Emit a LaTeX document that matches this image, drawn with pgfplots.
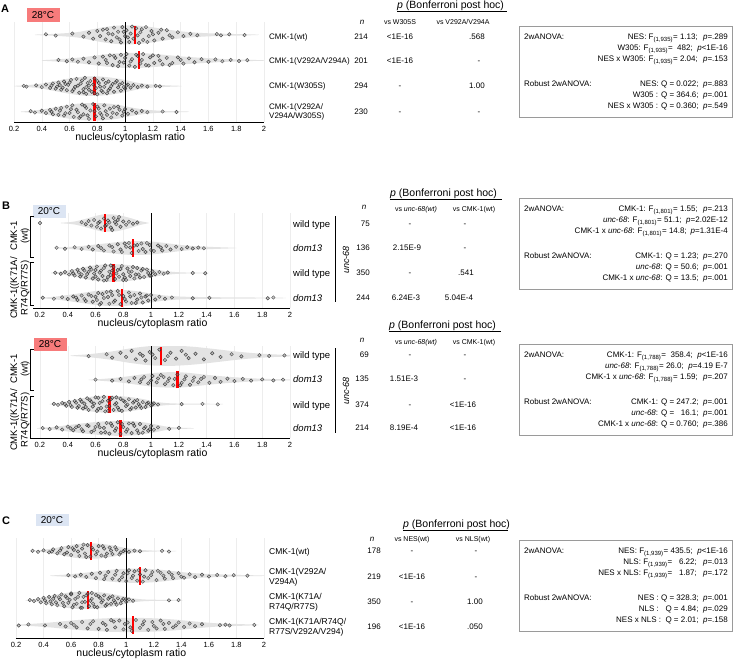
\documentclass[border=0pt]{standalone}
\usepackage{fontspec}
\setmainfont{Liberation Sans}
\usepackage{pgfplots}
\pgfplotsset{compat=1.18}
\definecolor{vio}{HTML}{E3E3E3}
\definecolor{hot}{HTML}{F77B7B}
\definecolor{cold}{HTML}{DCE5F3}
\definecolor{boxc}{HTML}{9A9A9A}
\newcommand{\fs}[1]{\fontsize{#1}{#1}\selectfont}

\pgfplotsset{
 vplot/.style={scale only axis, axis x line*=bottom, hide y axis, xmax=2,
  xtick={0.2,0.4,0.6,0.8,1,1.2,1.4,1.6,1.8,2},
  xticklabels={0.2,0.4,0.6,0.8,1,1.2,1.4,1.6,1.8,2},
  major tick length=0pt, xmajorgrids, major grid style={draw=gray!14, line width=0.4pt},
  x axis line style={line width=0.8pt, -},
  xticklabel style={font=\fs{7.5}, yshift=-0.5pt},
  xlabel={nucleus/cytoplasm ratio},
  xlabel style={font=\fs{10.5}, at={(axis description cs:0.465,0)}, anchor=center, yshift=-16pt}},
 vio/.style={fill=vio, draw=none, smooth},
 pts/.style={only marks, mark=*, mark size=1.75pt, mark options={draw=black!85, fill=black!45, fill opacity=0.4, draw opacity=0.8, line width=0.45pt}},
 med/.style={red, line width=2.2pt},
 vline/.style={black, line width=0.9pt},
}
\tikzset{
 f7/.style={font=\fs{7}, inner sep=0pt, text height=5.0pt, text depth=0pt},
 f8/.style={font=\fs{8}, inner sep=0pt, text height=5.8pt, text depth=0pt},
 f85/.style={font=\fs{8.5}, inner sep=0pt, text height=6.1pt, text depth=0pt},
 f95/.style={font=\fs{9.5}, inner sep=0pt, text height=6.8pt, text depth=0pt},
 f105/.style={font=\fs{10.5}, inner sep=0pt, text height=7.6pt, text depth=0pt},
 ml/.style={font=\fontsize{8.5}{10}\selectfont, inner sep=0pt, align=left},
 mla/.style={font=\fontsize{8}{9.5}\selectfont, inner sep=0pt, align=left},
 letter/.style={font=\bfseries\fs{11}, inner sep=0pt},
 temp/.style={inner sep=0pt, minimum width=33pt, minimum height=14pt, font=\fs{10}},
}

\begin{document}
\begin{tikzpicture}
\path[use as bounding box] (0,0) rectangle (735pt,-661pt);

% ---------------- Panel A ----------------
\begin{axis}[vplot, at={(14pt,-122pt)}, anchor=south west, width=250pt, height=100pt, xmin=0.2, ymin=0.6, ymax=4.5]
\addplot[vio] coordinates {(0.35,4.01)(0.5,4.04)(0.65,4.1)(0.75,4.2)(0.85,4.3)(0.95,4.36)(1.05,4.37)(1.15,4.33)(1.25,4.25)(1.35,4.17)(1.45,4.11)(1.6,4.06)(1.8,4.03)(1.95,4.01)(1.95,3.99)(1.8,3.97)(1.6,3.94)(1.45,3.89)(1.35,3.83)(1.25,3.75)(1.15,3.67)(1.05,3.63)(0.95,3.64)(0.85,3.7)(0.75,3.8)(0.65,3.9)(0.5,3.96)(0.35,3.99)};
\addplot[vio] coordinates {(0.4,3.01)(0.5,3.04)(0.6,3.08)(0.7,3.13)(0.8,3.2)(0.9,3.26)(1.0,3.29)(1.1,3.29)(1.2,3.26)(1.3,3.21)(1.4,3.16)(1.5,3.12)(1.6,3.09)(1.7,3.06)(1.85,3.03)(2.0,3.01)(2.0,2.99)(1.85,2.97)(1.7,2.94)(1.6,2.91)(1.5,2.88)(1.4,2.84)(1.3,2.79)(1.2,2.74)(1.1,2.71)(1.0,2.71)(0.9,2.74)(0.8,2.8)(0.7,2.87)(0.6,2.92)(0.5,2.96)(0.4,2.99)};
\addplot[vio] coordinates {(0.2,2.01)(0.3,2.04)(0.4,2.1)(0.5,2.2)(0.6,2.3)(0.7,2.37)(0.8,2.38)(0.9,2.33)(1.0,2.24)(1.1,2.12)(1.2,2.06)(1.3,2.03)(1.4,2.01)(1.4,1.99)(1.3,1.97)(1.2,1.94)(1.1,1.88)(1.0,1.76)(0.9,1.67)(0.8,1.62)(0.7,1.63)(0.6,1.7)(0.5,1.8)(0.4,1.9)(0.3,1.96)(0.2,1.99)};
\addplot[vio] coordinates {(0.25,1.01)(0.35,1.05)(0.45,1.13)(0.55,1.23)(0.65,1.31)(0.75,1.34)(0.85,1.33)(0.95,1.27)(1.05,1.16)(1.15,1.08)(1.25,1.04)(1.35,1.02)(1.45,1.01)(1.45,0.99)(1.35,0.98)(1.25,0.96)(1.15,0.92)(1.05,0.84)(0.95,0.73)(0.85,0.67)(0.75,0.66)(0.65,0.69)(0.55,0.77)(0.45,0.87)(0.35,0.95)(0.25,0.99)};
\addplot[pts] coordinates {(0.43,4.02) (0.50,3.97) (0.62,4.05) (0.70,3.93) (0.74,4.08) (0.77,3.85) (0.80,4.15) (0.82,3.95) (0.84,4.2) (0.86,3.82) (0.88,4.05) (0.90,3.75) (0.92,4.28) (0.94,3.9) (0.95,4.12) (0.97,3.7) (0.98,4.3) (1.00,3.95) (1.01,4.18) (1.03,3.72) (1.04,4.05) (1.06,3.85) (1.08,4.25) (1.10,3.68) (1.11,4.1) (1.13,3.8) (1.15,4.3) (1.17,3.95) (1.19,4.15) (1.21,3.78) (1.24,4.08) (1.27,3.85) (1.30,4.18) (1.34,3.9) (1.38,4.1) (1.42,3.95) (1.47,4.04) (1.52,3.98) (1.66,4.03) (1.69,3.98) (1.75,4.02) (1.86,3.99)
 (0.87,4.22) (0.91,4.02) (0.96,3.82) (0.99,4.12) (1.02,3.9) (1.05,4.32) (1.09,3.98) (1.12,4.22) (1.16,3.72) (1.20,4.02) (1.26,4.2) (1.32,3.98)};
\addplot[pts] coordinates {(0.52,3.02) (0.58,2.97) (0.62,3.04) (0.66,2.95) (0.70,3.07) (0.74,2.93) (0.78,3.12) (0.81,2.88) (0.84,3.15) (0.87,2.9) (0.89,3.2) (0.91,2.82) (0.93,3.1) (0.95,2.78) (0.97,3.22) (0.99,2.92) (1.01,3.25) (1.03,2.8) (1.05,3.05) (1.07,2.75) (1.09,3.18) (1.11,2.88) (1.13,3.25) (1.15,2.82) (1.18,3.12) (1.21,2.9) (1.24,3.18) (1.27,2.85) (1.30,3.1) (1.34,2.9) (1.38,3.12) (1.42,2.88) (1.46,3.08) (1.50,2.93) (1.55,3.05) (1.60,2.95) (1.65,3.04) (1.70,2.97) (1.76,3.02) (1.82,2.98) (1.88,3.01)
 (0.86,3.02) (0.92,3.18) (0.96,2.94) (1.00,3.1) (1.04,2.96) (1.08,3.22) (1.12,3.02) (1.17,2.8) (1.20,3.2) (1.25,3.0) (1.32,2.82) (1.40,3.02)};
\addplot[pts] coordinates {(0.27,2.01) (0.29,1.98) (0.36,2.03) (0.40,1.96) (0.43,2.06) (0.46,1.93) (0.48,2.1) (0.50,1.9) (0.52,2.14) (0.54,1.86) (0.56,2.18) (0.58,1.84) (0.59,2.05) (0.61,2.24) (0.62,1.8) (0.64,1.97) (0.65,2.28) (0.67,1.74) (0.68,2.1) (0.70,1.88) (0.71,2.32) (0.72,1.7) (0.74,2.02) (0.75,2.2) (0.76,1.78) (0.78,2.3) (0.79,1.92) (0.80,1.68) (0.81,2.12) (0.83,1.82) (0.84,2.26) (0.85,1.97) (0.87,1.72) (0.88,2.18) (0.89,1.9) (0.91,2.08) (0.92,1.78) (0.94,2.2) (0.95,1.95) (0.97,1.82) (0.98,2.12) (1.00,1.9) (1.02,2.06) (1.04,1.94) (1.06,2.04) (1.09,1.96) (1.12,2.02) (1.16,1.98) (1.22,2.01) (1.25,1.99)
 (0.47,2.02) (0.51,1.98) (0.53,2.04) (0.55,1.94) (0.57,2.08) (0.60,2.14) (0.63,1.88) (0.66,2.02) (0.69,2.22) (0.70,1.76) (0.73,2.12) (0.74,1.86) (0.77,2.06) (0.78,1.72) (0.80,2.2) (0.82,1.98) (0.84,1.76) (0.86,2.12) (0.88,1.84) (0.90,2.0) (0.93,2.14) (0.96,2.06) (0.99,1.96) (1.01,2.02) (0.72,1.96)};
\addplot[pts] coordinates {(0.32,1.02) (0.35,0.97) (0.40,1.04) (0.43,0.95) (0.46,1.07) (0.48,0.9) (0.50,1.12) (0.52,0.88) (0.54,1.15) (0.56,0.85) (0.58,1.2) (0.60,0.95) (0.62,1.25) (0.63,0.8) (0.65,1.08) (0.67,0.76) (0.69,1.28) (0.70,0.9) (0.72,1.15) (0.74,0.72) (0.75,1.05) (0.77,1.3) (0.79,0.82) (0.80,1.2) (0.82,0.95) (0.84,0.74) (0.85,1.25) (0.87,0.88) (0.89,1.12) (0.90,0.78) (0.92,1.18) (0.94,0.92) (0.96,1.08) (0.98,0.85) (1.00,1.1) (1.02,0.92) (1.05,1.05) (1.08,0.96) (1.12,1.03) (1.16,0.98) (1.27,1.01) (1.37,0.99)
 (0.47,1.0) (0.53,1.04) (0.57,0.94) (0.61,1.1) (0.66,0.98) (0.71,1.22) (0.73,0.86) (0.78,1.02) (0.81,1.12) (0.83,0.88) (0.86,1.02) (0.91,0.96) (0.95,1.2) (0.99,1.0) (0.68,0.82)};
\addplot[vline] coordinates {(1,0.6) (1,4.5)};
\addplot[med] coordinates {(1.07,3.65) (1.07,4.35)};
\addplot[med] coordinates {(1.10,2.65) (1.10,3.35)};
\addplot[med] coordinates {(0.78,1.65) (0.78,2.35)};
\addplot[med] coordinates {(0.78,0.65) (0.78,1.35)};
\end{axis}

% ---------------- Panel B, 20C ----------------
\begin{axis}[vplot, at={(33pt,-308pt)}, anchor=south west, width=257pt, height=95pt, xmin=0.15, ymin=0.6, ymax=4.4]
\addplot[vio] coordinates {(0.35,4.01)(0.45,4.06)(0.55,4.2)(0.65,4.34)(0.75,4.33)(0.85,4.2)(0.92,4.08)(0.98,4.01)(0.98,3.99)(0.92,3.92)(0.85,3.8)(0.75,3.67)(0.65,3.66)(0.55,3.8)(0.45,3.94)(0.35,3.99)};
\addplot[vio] coordinates {(0.3,3.01)(0.4,3.04)(0.5,3.08)(0.6,3.14)(0.7,3.2)(0.8,3.26)(0.9,3.28)(1.0,3.26)(1.1,3.2)(1.2,3.13)(1.3,3.08)(1.45,3.04)(1.6,3.01)(1.6,2.99)(1.45,2.96)(1.3,2.92)(1.2,2.87)(1.1,2.8)(1.0,2.74)(0.9,2.72)(0.8,2.74)(0.7,2.8)(0.6,2.86)(0.5,2.92)(0.4,2.96)(0.3,2.99)};
\addplot[vio] coordinates {(0.28,2.01)(0.35,2.05)(0.45,2.15)(0.55,2.27)(0.65,2.34)(0.75,2.35)(0.85,2.31)(0.95,2.22)(1.05,2.12)(1.15,2.05)(1.25,2.02)(1.4,2.01)(1.4,1.99)(1.25,1.98)(1.15,1.95)(1.05,1.88)(0.95,1.78)(0.85,1.69)(0.75,1.65)(0.65,1.66)(0.55,1.73)(0.45,1.85)(0.35,1.95)(0.28,1.99)};
\addplot[vio] coordinates {(0.2,1.01)(0.3,1.05)(0.4,1.12)(0.5,1.2)(0.6,1.28)(0.7,1.32)(0.8,1.32)(0.9,1.27)(1.0,1.18)(1.1,1.1)(1.25,1.05)(1.5,1.03)(1.75,1.02)(1.95,1.01)(1.95,0.99)(1.75,0.98)(1.5,0.97)(1.25,0.95)(1.1,0.9)(1.0,0.82)(0.9,0.73)(0.8,0.68)(0.7,0.68)(0.6,0.72)(0.5,0.8)(0.4,0.88)(0.3,0.95)(0.2,0.99)};
\addplot[pts] coordinates {(0.20,4.0) (0.50,4.03) (0.53,3.95) (0.55,4.08) (0.57,3.9) (0.59,4.12) (0.61,3.85) (0.63,4.05) (0.64,3.78) (0.66,4.18) (0.68,3.92) (0.69,4.1) (0.71,3.82) (0.73,4.2) (0.75,3.95) (0.76,4.12) (0.78,3.85) (0.80,4.06) (0.82,3.93) (0.84,4.05) (0.87,3.97) (0.90,4.02)
 (0.62,4.0) (0.67,3.88) (0.70,4.02) (0.72,3.72) (0.77,4.24) (0.74,4.04)};
\addplot[pts] coordinates {(0.32,3.01) (0.38,2.97) (0.45,3.03) (0.50,2.96) (0.55,3.05) (0.58,2.94) (0.62,3.08) (0.66,2.9) (0.70,3.1) (0.73,2.86) (0.76,3.15) (0.79,2.84) (0.82,3.05) (0.84,3.2) (0.86,2.8) (0.88,3.1) (0.91,2.88) (0.93,3.18) (0.96,2.84) (0.99,3.12) (1.02,2.88) (1.05,3.1) (1.08,2.9) (1.11,3.08) (1.14,2.94) (1.18,3.05) (1.22,2.96) (1.26,3.03) (1.30,2.98) (1.34,3.02) (1.38,2.99)
 (0.64,3.0) (0.72,3.04) (0.78,2.94) (0.81,3.18) (0.85,3.02) (0.90,3.12) (0.94,2.96) (0.97,3.2) (1.00,2.92) (1.07,3.02)};
\addplot[pts] coordinates {(0.31,2.01) (0.35,1.97) (0.38,2.04) (0.41,1.94) (0.43,2.08) (0.45,1.9) (0.47,2.13) (0.49,1.86) (0.51,2.17) (0.53,1.82) (0.55,2.05) (0.56,2.22) (0.58,1.78) (0.59,1.98) (0.61,2.26) (0.62,1.74) (0.64,2.1) (0.65,1.88) (0.67,2.3) (0.68,1.72) (0.70,2.05) (0.71,1.92) (0.73,2.24) (0.74,1.76) (0.76,2.12) (0.77,1.85) (0.79,2.28) (0.80,1.95) (0.82,1.72) (0.83,2.18) (0.85,1.88) (0.86,2.06) (0.88,1.78) (0.90,2.2) (0.91,1.94) (0.93,2.1) (0.95,1.84) (0.97,2.14) (0.99,1.9) (1.01,2.06) (1.03,1.95) (1.06,2.04) (1.09,1.97) (1.12,2.02) (1.30,2.0) (1.39,1.99)
 (0.44,1.98) (0.48,2.02) (0.50,1.94) (0.52,2.1) (0.54,1.96) (0.57,2.14) (0.60,1.86) (0.63,2.02) (0.66,2.2) (0.69,1.84) (0.72,2.1) (0.75,1.98) (0.78,2.16) (0.81,1.82) (0.84,2.04) (0.87,2.24) (0.89,1.94) (0.92,1.82) (0.94,2.16) (0.98,2.0) (1.00,1.88) (0.71,2.3) (0.60,2.12) (0.66,1.7) (0.80,1.72)};
\addplot[pts] coordinates {(0.22,1.01) (0.30,0.97) (0.36,1.03) (0.40,0.96) (0.44,1.06) (0.47,0.92) (0.50,1.1) (0.53,0.88) (0.55,1.14) (0.58,0.85) (0.60,1.05) (0.62,1.2) (0.64,0.8) (0.66,1.0) (0.68,1.24) (0.70,0.77) (0.72,1.12) (0.74,0.9) (0.76,1.28) (0.78,0.75) (0.80,1.08) (0.82,0.86) (0.84,1.22) (0.86,0.8) (0.88,1.12) (0.90,0.94) (0.92,1.18) (0.94,0.82) (0.96,1.06) (0.98,0.9) (1.00,1.12) (1.03,0.94) (1.06,1.05) (1.10,0.97) (1.15,1.02) (1.30,0.99) (1.42,1.01) (1.84,0.99) (1.88,1.02)
 (0.46,1.02) (0.52,0.96) (0.57,1.08) (0.61,0.92) (0.65,1.16) (0.69,1.04) (0.73,0.84) (0.77,1.12) (0.81,0.96) (0.85,1.06) (0.89,0.8) (0.93,1.02) (0.97,1.1) (0.71,1.26) (0.63,0.74)};
\addplot[vline] coordinates {(1,0.6) (1,4.4)};
\addplot[med] coordinates {(0.67,3.65) (0.67,4.35)};
\addplot[med] coordinates {(0.87,2.65) (0.87,3.35)};
\addplot[med] coordinates {(0.73,1.65) (0.73,2.35)};
\addplot[med] coordinates {(0.79,0.65) (0.79,1.35)};
\end{axis}

% ---------------- Panel B, 28C ----------------
\begin{axis}[vplot, at={(33pt,-438pt)}, anchor=south west, width=257pt, height=92pt, xmin=0.15, ymin=0.6, ymax=4.4]
\addplot[vio] coordinates {(0.42,4.01)(0.55,4.06)(0.7,4.16)(0.85,4.3)(1.0,4.4)(1.15,4.42)(1.3,4.37)(1.45,4.28)(1.6,4.18)(1.75,4.1)(1.9,4.05)(2.0,4.03)(2.0,3.97)(1.9,3.95)(1.75,3.9)(1.6,3.82)(1.45,3.72)(1.3,3.63)(1.15,3.58)(1.0,3.6)(0.85,3.7)(0.7,3.84)(0.55,3.94)(0.42,3.99)};
\addplot[vio] coordinates {(0.55,3.01)(0.65,3.04)(0.75,3.09)(0.85,3.16)(0.95,3.24)(1.05,3.3)(1.15,3.32)(1.25,3.3)(1.35,3.24)(1.45,3.18)(1.6,3.11)(1.75,3.06)(1.9,3.03)(2.0,3.02)(2.0,2.98)(1.9,2.97)(1.75,2.94)(1.6,2.89)(1.45,2.82)(1.35,2.76)(1.25,2.7)(1.15,2.68)(1.05,2.7)(0.95,2.76)(0.85,2.84)(0.75,2.91)(0.65,2.96)(0.55,2.99)};
\addplot[vio] coordinates {(0.27,2.01)(0.35,2.07)(0.45,2.18)(0.55,2.29)(0.65,2.35)(0.75,2.34)(0.85,2.29)(0.95,2.2)(1.05,2.08)(1.15,2.03)(1.3,2.02)(1.5,2.01)(1.5,1.99)(1.3,1.98)(1.15,1.97)(1.05,1.92)(0.95,1.8)(0.85,1.71)(0.75,1.66)(0.65,1.65)(0.55,1.71)(0.45,1.82)(0.35,1.93)(0.27,1.99)};
\addplot[vio] coordinates {(0.18,1.01)(0.3,1.06)(0.4,1.13)(0.5,1.2)(0.6,1.26)(0.7,1.3)(0.8,1.31)(0.9,1.28)(1.0,1.2)(1.1,1.08)(1.2,1.03)(1.3,1.01)(1.3,0.99)(1.2,0.97)(1.1,0.92)(1.0,0.8)(0.9,0.72)(0.8,0.69)(0.7,0.7)(0.6,0.74)(0.5,0.8)(0.4,0.87)(0.3,0.94)(0.18,0.99)};
\addplot[pts] coordinates {(0.55,3.98) (0.68,4.06) (0.72,3.92) (0.78,4.12) (0.82,3.95) (0.86,4.2) (0.89,3.85) (0.92,4.08) (0.96,3.8) (0.99,4.15) (1.03,3.9) (1.06,4.25) (1.10,3.82) (1.14,4.12) (1.18,3.88) (1.22,4.2) (1.27,3.9) (1.32,4.08) (1.38,3.85) (1.44,4.1) (1.50,3.95) (1.58,4.06) (1.65,3.97) (1.78,4.02) (1.85,3.99) (1.96,4.01)
 (0.94,4.0) (1.01,4.05) (1.12,3.98) (1.25,4.04)};
\addplot[pts] coordinates {(0.60,3.01) (0.72,2.97) (0.78,3.04) (0.84,2.94) (0.88,3.08) (0.92,2.9) (0.95,3.12) (0.98,2.86) (1.01,3.16) (1.04,2.9) (1.07,3.2) (1.10,2.82) (1.13,3.06) (1.16,2.78) (1.19,3.22) (1.22,2.88) (1.25,3.15) (1.28,2.8) (1.31,3.1) (1.34,2.9) (1.38,3.12) (1.42,2.88) (1.46,3.08) (1.50,2.92) (1.55,3.05) (1.60,2.95) (1.66,3.04) (1.72,2.97) (1.80,3.02) (1.88,2.98) (1.95,3.01)
 (0.93,3.02) (1.00,2.98) (1.05,3.06) (1.09,3.12) (1.12,2.94) (1.17,3.04) (1.21,2.78) (1.24,3.02) (1.30,2.96) (1.36,3.04)};
\addplot[pts] coordinates {(0.30,2.01) (0.33,1.97) (0.36,2.05) (0.39,1.93) (0.41,2.09) (0.43,1.88) (0.45,2.13) (0.47,1.85) (0.49,2.18) (0.51,1.82) (0.52,2.02) (0.54,2.24) (0.55,1.76) (0.57,2.1) (0.58,1.9) (0.60,2.28) (0.61,1.72) (0.63,2.05) (0.64,1.84) (0.66,2.3) (0.67,1.7) (0.69,2.14) (0.70,1.92) (0.72,2.26) (0.73,1.76) (0.75,2.04) (0.76,1.86) (0.78,2.22) (0.79,1.72) (0.81,2.1) (0.82,1.92) (0.84,2.2) (0.85,1.78) (0.87,2.06) (0.89,1.86) (0.90,2.16) (0.92,1.92) (0.94,2.08) (0.96,1.88) (0.98,2.06) (1.00,1.95) (1.02,2.03) (1.05,1.98) (1.22,2.0) (1.37,2.01) (1.48,1.99)
 (0.38,2.0) (0.42,1.96) (0.46,2.06) (0.48,1.92) (0.50,2.1) (0.53,1.88) (0.56,2.16) (0.59,2.02) (0.62,1.8) (0.65,2.12) (0.68,1.9) (0.71,2.2) (0.74,1.98) (0.77,1.76) (0.80,2.14) (0.83,1.98) (0.86,1.84) (0.88,2.12) (0.91,2.0) (0.93,1.84) (0.97,2.02) (1.01,1.98) (0.62,2.26) (0.69,1.72) (0.75,2.28)};
\addplot[pts] coordinates {(0.22,1.01) (0.27,0.97) (0.32,1.04) (0.36,0.95) (0.40,1.07) (0.44,0.92) (0.48,1.1) (0.51,0.88) (0.54,1.13) (0.57,0.85) (0.60,1.06) (0.62,1.18) (0.64,0.82) (0.66,1.02) (0.68,1.22) (0.70,0.78) (0.72,1.1) (0.74,0.9) (0.76,1.25) (0.78,0.77) (0.80,1.05) (0.82,0.86) (0.84,1.2) (0.86,0.8) (0.88,1.1) (0.90,0.92) (0.92,1.18) (0.94,0.82) (0.96,1.06) (0.98,0.9) (1.00,1.1) (1.02,0.94) (1.05,1.04) (1.13,0.98) (1.20,1.02)
 (0.42,1.0) (0.46,1.04) (0.50,0.96) (0.55,1.1) (0.59,0.92) (0.63,1.04) (0.67,0.84) (0.71,1.2) (0.75,1.0) (0.79,1.18) (0.83,0.96) (0.87,1.2) (0.91,0.8) (0.95,1.0) (0.99,0.96)};
\addplot[vline] coordinates {(1,0.6) (1,4.4)};
\addplot[med] coordinates {(1.07,3.63) (1.07,4.37)};
\addplot[med] coordinates {(1.19,2.65) (1.19,3.35)};
\addplot[med] coordinates {(0.70,1.65) (0.70,2.35)};
\addplot[med] coordinates {(0.78,0.65) (0.78,1.35)};
\end{axis}

% ---------------- Panel C ----------------
\begin{axis}[vplot, at={(16pt,-638pt)}, anchor=south west, width=248pt, height=100pt, xmin=0.2, ymin=0.47, ymax=4.53]
\addplot[vio] coordinates {(0.3,4.01)(0.4,4.05)(0.5,4.14)(0.6,4.25)(0.7,4.31)(0.8,4.3)(0.9,4.23)(1.0,4.12)(1.1,4.05)(1.2,4.02)(1.35,4.01)(1.35,3.99)(1.2,3.98)(1.1,3.95)(1.0,3.88)(0.9,3.77)(0.8,3.7)(0.7,3.69)(0.6,3.75)(0.5,3.86)(0.4,3.95)(0.3,3.99)};
\addplot[vio] coordinates {(0.45,3.01)(0.55,3.04)(0.65,3.09)(0.75,3.15)(0.85,3.22)(0.95,3.27)(1.05,3.29)(1.15,3.28)(1.25,3.24)(1.35,3.18)(1.45,3.12)(1.6,3.07)(1.75,3.04)(1.9,3.02)(2.0,3.01)(2.0,2.99)(1.9,2.98)(1.75,2.96)(1.6,2.93)(1.45,2.88)(1.35,2.82)(1.25,2.76)(1.15,2.72)(1.05,2.71)(0.95,2.73)(0.85,2.78)(0.75,2.85)(0.65,2.91)(0.55,2.96)(0.45,2.99)};
\addplot[vio] coordinates {(0.27,2.01)(0.35,2.06)(0.45,2.18)(0.55,2.29)(0.65,2.35)(0.75,2.35)(0.85,2.3)(0.95,2.2)(1.05,2.08)(1.15,2.03)(1.3,2.02)(1.4,2.01)(1.4,1.99)(1.3,1.98)(1.15,1.97)(1.05,1.92)(0.95,1.8)(0.85,1.7)(0.75,1.65)(0.65,1.65)(0.55,1.71)(0.45,1.82)(0.35,1.94)(0.27,1.99)};
\addplot[vio] coordinates {(0.17,1.01)(0.3,1.04)(0.45,1.1)(0.6,1.18)(0.75,1.24)(0.9,1.28)(1.05,1.29)(1.2,1.27)(1.35,1.22)(1.5,1.14)(1.65,1.07)(1.8,1.04)(1.95,1.01)(1.95,0.99)(1.8,0.96)(1.65,0.93)(1.5,0.86)(1.35,0.78)(1.2,0.73)(1.05,0.71)(0.9,0.72)(0.75,0.76)(0.6,0.82)(0.45,0.9)(0.3,0.96)(0.17,0.99)};
\addplot[pts] coordinates {(0.32,4.01) (0.36,3.97) (0.40,4.03) (0.44,3.95) (0.47,4.07) (0.50,3.91) (0.53,4.12) (0.55,3.87) (0.58,4.16) (0.60,3.84) (0.62,4.05) (0.64,4.2) (0.66,3.8) (0.68,4.1) (0.70,3.9) (0.72,4.24) (0.74,3.78) (0.76,4.06) (0.78,3.86) (0.80,4.2) (0.82,3.82) (0.84,4.1) (0.86,3.9) (0.88,4.14) (0.90,3.88) (0.93,4.06) (0.96,3.94) (0.99,4.04) (1.02,3.97) (1.06,4.02) (1.10,3.99) (1.26,4.01) (1.31,3.98)
 (0.46,3.98) (0.52,4.02) (0.57,3.94) (0.61,4.12) (0.65,3.98) (0.69,4.26) (0.71,3.76) (0.75,4.14) (0.79,3.98) (0.83,4.2) (0.85,3.78) (0.89,4.02) (0.92,4.16) (0.95,3.86) (0.98,4.0)};
\addplot[pts] coordinates {(0.58,3.02) (0.63,2.97) (0.67,3.04) (0.71,2.95) (0.75,3.08) (0.78,2.9) (0.81,3.12) (0.84,2.86) (0.87,3.15) (0.90,2.88) (0.93,3.2) (0.95,2.82) (0.98,3.1) (1.00,2.78) (1.02,3.22) (1.04,2.9) (1.06,3.18) (1.08,2.8) (1.10,3.05) (1.12,2.76) (1.14,3.22) (1.16,2.9) (1.19,3.15) (1.22,2.82) (1.25,3.12) (1.28,2.88) (1.31,3.14) (1.34,2.9) (1.38,3.1) (1.42,2.92) (1.46,3.06) (1.50,2.94) (1.55,3.04) (1.60,2.97) (1.66,3.03) (1.72,2.98) (1.78,3.02) (1.88,3.0)
 (0.85,3.0) (0.92,3.04) (0.97,2.94) (1.01,3.1) (1.05,3.0) (1.09,3.22) (1.13,2.96) (1.18,3.02) (1.23,3.2) (1.27,3.0) (1.33,3.04) (1.40,2.96)};
\addplot[pts] coordinates {(0.30,2.01) (0.33,1.97) (0.36,2.05) (0.38,1.92) (0.40,2.1) (0.42,1.88) (0.44,2.14) (0.46,1.84) (0.48,2.18) (0.50,1.8) (0.52,2.04) (0.53,2.24) (0.55,1.76) (0.57,2.1) (0.58,1.9) (0.60,2.28) (0.61,1.72) (0.63,2.06) (0.64,1.86) (0.66,2.3) (0.67,1.7) (0.69,2.14) (0.70,1.94) (0.72,2.26) (0.73,1.76) (0.75,2.06) (0.76,1.86) (0.78,2.22) (0.79,1.72) (0.81,2.1) (0.82,1.92) (0.84,2.2) (0.85,1.78) (0.87,2.06) (0.89,1.86) (0.90,2.16) (0.92,1.92) (0.94,2.08) (0.96,1.88) (0.98,2.06) (1.00,1.94) (1.02,2.04) (1.05,1.98) (1.31,2.0) (1.38,2.01)
 (0.41,2.0) (0.45,1.96) (0.47,2.06) (0.49,1.92) (0.51,2.12) (0.54,1.9) (0.56,2.16) (0.59,2.02) (0.62,1.82) (0.65,2.14) (0.68,1.92) (0.71,2.2) (0.74,1.98) (0.77,1.74) (0.80,2.16) (0.83,2.0) (0.86,1.84) (0.88,2.12) (0.91,2.0) (0.93,1.82) (0.97,2.0) (1.00,2.06) (0.60,2.24) (0.68,1.7) (0.75,2.3)};
\addplot[pts] coordinates {(0.19,1.01) (0.22,0.98) (0.29,1.02) (0.41,0.98) (0.52,1.04) (0.56,0.94) (0.60,1.08) (0.64,0.9) (0.68,1.12) (0.72,0.86) (0.76,1.15) (0.80,0.84) (0.83,1.08) (0.86,0.8) (0.89,1.2) (0.92,0.9) (0.95,1.18) (0.98,0.82) (1.01,1.1) (1.04,0.76) (1.07,1.2) (1.10,0.88) (1.13,1.15) (1.16,0.8) (1.19,1.12) (1.22,0.86) (1.25,1.18) (1.28,0.84) (1.31,1.08) (1.34,0.9) (1.38,1.1) (1.42,0.92) (1.46,1.06) (1.50,0.95) (1.55,1.03) (1.68,0.99) (1.72,1.01) (1.75,0.98) (1.93,1.0)
 (0.62,1.0) (0.74,1.04) (0.85,1.0) (0.91,1.14) (0.99,1.04) (1.03,0.9) (1.12,1.02) (1.20,0.96) (1.27,1.04) (1.36,0.98)};
\addplot[vline] coordinates {(1,0.47) (1,4.53)};
\addplot[med] coordinates {(0.745,3.63) (0.745,4.37)};
\addplot[med] coordinates {(1.10,2.63) (1.10,3.37)};
\addplot[med] coordinates {(0.72,1.63) (0.72,2.37)};
\addplot[med] coordinates {(1.05,0.63) (1.05,1.37)};
\end{axis}

% ---------------- Text ----------------
\begin{scope}[x=1pt,y=-1pt]
% ===== A =====
\node[letter] at (5,9) {A};
\node[temp, fill=hot] at (43,15) {28°C};
\node[f105, anchor=west] at (397,5) {\textit{p} (Bonferroni post hoc)};
\draw[line width=0.5pt] (397,11) -- (507,11);
\node[f8] at (362,22) {\textit{n}};
\node[f7] at (400,22) {vs W305S};
\node[f7] at (463,22) {vs V292A/V294A};
\node[f8, anchor=west] at (269,37) {CMK-1(wt)};
\node[f8, anchor=west] at (269,61) {CMK-1(V292A/V294A)};
\node[f8, anchor=west] at (269,86) {CMK-1(W305S)};
\node[mla, anchor=west] at (269,112) {CMK-1(V292A/\\V294A/W305S)};
\node[f8, anchor=east] at (368,37) {214};
\node[f8, anchor=east] at (368,61) {201};
\node[f8, anchor=east] at (368,86) {294};
\node[f8, anchor=east] at (368,112) {230};
\node[f8] at (400,37) {<1E-16};
\node[f8] at (400,61) {<1E-16};
\node[f8] at (400,86) {-};
\node[f8] at (400,112) {-};
\node[f8] at (477,37) {.568};
\node[f8] at (479,61) {-};
\node[f8] at (477,86) {1.00};
\node[f8] at (479,112) {-};
\draw[boxc, line width=0.6pt] (519,26) rectangle (732,117);
\node[f8, anchor=west] at (524,37) {2wANOVA:};
\node[f8, anchor=east] at (698,37) {NES: F\textsubscript{(1,935)}= 1.13;};
\node[f8, anchor=east] at (728,37) {\textit{p}=.289};
\node[f8, anchor=east] at (693,48) {W305: F\textsubscript{(1,935)}=\ \ 482;};
\node[f8, anchor=east] at (728,48) {\textit{p}<1E-16};
\node[f8, anchor=east] at (698,59) {NES x W305: F\textsubscript{(1,935)}= 2.04;};
\node[f8, anchor=east] at (728,59) {\textit{p}=.153};
\node[f8, anchor=west] at (524,84) {Robust 2wANOVA:};
\node[f8, anchor=east] at (728,84) {NES: Q = 0.022;\ \ \textit{p}=.883};
\node[f8, anchor=east] at (728,95) {W305 : Q = 364.6;\ \ \textit{p}=.001};
\node[f8, anchor=east] at (728,106) {NES x W305 : Q = 0.360;\ \ \textit{p}=.549};

% ===== B 20C =====
\node[letter] at (6,206) {B};
\node[temp, fill=cold, minimum height=13pt] at (49,211) {20°C};
\draw[line width=0.5pt] (34,216) -- (30,216) -- (30,257) -- (34,257);
\draw[line width=0.5pt] (34,262) -- (30,262) -- (30,305) -- (34,305);
\node[rotate=90, align=center, font=\fontsize{9.5}{10.5}\selectfont, inner sep=0pt] at (20,236) {CMK-1\\(wt)};
\node[rotate=90, align=center, font=\fontsize{9.5}{10.5}\selectfont, inner sep=0pt] at (20,288) {CMK-1((K71A/\\R74Q/R77S)};
\node[f105, anchor=west] at (390,193) {\textit{p} (Bonferroni post hoc)};
\draw[line width=0.5pt] (390,199) -- (502,199);
\node[f8] at (364,207) {\textit{n}};
\node[f7] at (416,209) {vs \textit{unc-68(wt)}};
\node[f7] at (474,209) {vs CMK-1(wt)};
\node[f95, anchor=west] at (293,224) {wild type};
\node[f95, anchor=west] at (293,248) {\textit{dom13}};
\node[f95, anchor=west] at (293,273) {wild type};
\node[f95, anchor=west] at (293,298) {\textit{dom13}};
\draw[line width=0.6pt] (335,216) -- (335,302);
\node[rotate=90, font=\itshape\fs{9}, inner sep=0pt] at (346,260) {unc-68};
\node[f8, anchor=east] at (370,224) {75};
\node[f8, anchor=east] at (370,248) {136};
\node[f8, anchor=east] at (370,273) {350};
\node[f8, anchor=east] at (370,298) {244};
\node[f8] at (410,224) {-};
\node[f8] at (407,248) {2.15E-9};
\node[f8] at (410,273) {-};
\node[f8] at (406,298) {6.24E-3};
\node[f8] at (465,224) {-};
\node[f8] at (465,248) {-};
\node[f8] at (466,273) {.541};
\node[f8] at (459,298) {5.04E-4};
\draw[boxc, line width=0.6pt] (519,198) rectangle (732,289);
\node[f8, anchor=west] at (524,209) {2wANOVA:};
\node[f8, anchor=east] at (698,209) {CMK-1: F\textsubscript{(1,801)}= 1.55;};
\node[f8, anchor=east] at (728,209) {\textit{p}=.213};
\node[f8, anchor=east] at (682,220) {\textit{unc-68}: F\textsubscript{(1,801)}= 51.1;};
\node[f8, anchor=east] at (728,220) {\textit{p}=2.02E-12};
\node[f8, anchor=east] at (687,231) {CMK-1 x \textit{unc-68}: F\textsubscript{(1,801)}= 14.8;};
\node[f8, anchor=east] at (728,231) {\textit{p}=1.31E-4};
\node[f8, anchor=west] at (524,256) {Robust 2wANOVA:};
\node[f8, anchor=east] at (728,256) {CMK-1: Q = 1.23;\ \ \textit{p}=.270};
\node[f8, anchor=east] at (728,267) {\textit{unc-68}: Q = 50.6;\ \ \textit{p}=.001};
\node[f8, anchor=east] at (728,278) {CMK-1 x \textit{unc-68}: Q = 13.5;\ \ \textit{p}=.001};

% ===== B 28C =====
\node[temp, fill=hot, minimum height=13pt] at (50,344) {28°C};
\draw[line width=0.5pt] (34,349) -- (30,349) -- (30,390) -- (34,390);
\draw[line width=0.5pt] (34,396) -- (30,396) -- (30,438) -- (34,438);
\node[rotate=90, align=center, font=\fontsize{9.5}{10.5}\selectfont, inner sep=0pt] at (20,369) {CMK-1\\(wt)};
\node[rotate=90, align=center, font=\fontsize{9.5}{10.5}\selectfont, inner sep=0pt] at (20,420) {CMK-1((K71A/\\R74Q/R77S)};
\node[f105, anchor=west] at (389,325) {\textit{p} (Bonferroni post hoc)};
\draw[line width=0.5pt] (389,331) -- (501,331);
\node[f8] at (362,340) {\textit{n}};
\node[f7] at (416,342) {vs \textit{unc-68(wt)}};
\node[f7] at (474,342) {vs CMK-1(wt)};
\node[f95, anchor=west] at (293,355) {wild type};
\node[f95, anchor=west] at (293,379) {\textit{dom13}};
\node[f95, anchor=west] at (293,405) {wild type};
\node[f95, anchor=west] at (293,428) {\textit{dom13}};
\draw[line width=0.6pt] (335,348) -- (335,433);
\node[rotate=90, font=\itshape\fs{9}, inner sep=0pt] at (346,391) {unc-68};
\node[f8, anchor=east] at (369,355) {69};
\node[f8, anchor=east] at (369,379) {135};
\node[f8, anchor=east] at (369,405) {374};
\node[f8, anchor=east] at (369,428) {214};
\node[f8] at (410,355) {-};
\node[f8] at (404,379) {1.51E-3};
\node[f8] at (410,405) {-};
\node[f8] at (404,428) {8.19E-4};
\node[f8] at (465,355) {-};
\node[f8] at (465,379) {-};
\node[f8] at (463,405) {<1E-16};
\node[f8] at (463,428) {<1E-16};
\draw[boxc, line width=0.6pt] (519,344) rectangle (732,435);
\node[f8, anchor=west] at (524,355) {2wANOVA:};
\node[f8, anchor=east] at (693,355) {CMK-1: F\textsubscript{(1,788)}=\ \ 358.4;};
\node[f8, anchor=east] at (728,355) {\textit{p}<1E-16};
\node[f8, anchor=east] at (684,366) {\textit{unc-68}: F\textsubscript{(1,788)}= 26.0;};
\node[f8, anchor=east] at (728,366) {\textit{p}=4.19 E-7};
\node[f8, anchor=east] at (698,377) {CMK-1 x \textit{unc-68}: F\textsubscript{(1,788)}= 1.59;};
\node[f8, anchor=east] at (728,377) {\textit{p}=.207};
\node[f8, anchor=west] at (524,402) {Robust 2wANOVA:};
\node[f8, anchor=east] at (728,402) {CMK-1: Q = 247.2;\ \ \textit{p}=.001};
\node[f8, anchor=east] at (728,413) {\textit{unc-68}: Q =\ \ \ 16.1;\ \ \textit{p}=.001};
\node[f8, anchor=east] at (728,424) {CMK-1 x \textit{unc-68}: Q = 0.760;\ \ \textit{p}=.386};

% ===== C =====
\node[letter] at (6,521) {C};
\node[temp, fill=cold, minimum height=12pt] at (52,520) {20°C};
\node[f105, anchor=west] at (403,524) {\textit{p} (Bonferroni post hoc)};
\draw[line width=0.5pt] (403,530) -- (508,530);
\node[f8] at (372,539) {\textit{n}};
\node[f7] at (412,539) {vs NES(wt)};
\node[f7] at (473,539) {vs NLS(wt)};
\node[f85, anchor=west] at (269,551) {CMK-1(wt)};
\node[ml, anchor=west] at (269,577) {CMK-1(V292A/\\V294A)};
\node[ml, anchor=west] at (269,602) {CMK-1(K71A/\\R74Q/R77S)};
\node[ml, anchor=west] at (269,627) {CMK-1(K71A/R74Q/\\R77S/V292A/V294)};
\node[f8, anchor=east] at (381,551) {178};
\node[f8, anchor=east] at (381,577) {219};
\node[f8, anchor=east] at (381,602) {350};
\node[f8, anchor=east] at (381,627) {196};
\node[f8] at (412,551) {-};
\node[f8] at (412,577) {<1E-16};
\node[f8] at (412,602) {-};
\node[f8] at (412,627) {<1E-16};
\node[f8] at (476,551) {-};
\node[f8] at (476,577) {-};
\node[f8] at (475,602) {1.00};
\node[f8] at (475,627) {.050};
\draw[boxc, line width=0.6pt] (519,540) rectangle (732,631);
\node[f8, anchor=west] at (524,551) {2wANOVA:};
\node[f8, anchor=east] at (693,551) {NES: F\textsubscript{(1,939)}= 435.5;};
\node[f8, anchor=east] at (728,551) {\textit{p}<1E-16};
\node[f8, anchor=east] at (697,562) {NLS: F\textsubscript{(1,939)}=\ \ \ 6.22;};
\node[f8, anchor=east] at (728,562) {\textit{p}=.013};
\node[f8, anchor=east] at (697,573) {NES x NLS: F\textsubscript{(1,939)}=\ \ \ 1.87;};
\node[f8, anchor=east] at (728,573) {\textit{p}=.172};
\node[f8, anchor=west] at (524,598) {Robust 2wANOVA:};
\node[f8, anchor=east] at (728,598) {NES : Q = 328.3;\ \ \textit{p}=.001};
\node[f8, anchor=east] at (728,609) {NLS :\ \ \ Q = 4.84;\ \ \textit{p}=.029};
\node[f8, anchor=east] at (728,620) {NES x NLS :\ \ Q = 2.01;\ \ \textit{p}=.158};
\end{scope}
\end{tikzpicture}
\end{document}
